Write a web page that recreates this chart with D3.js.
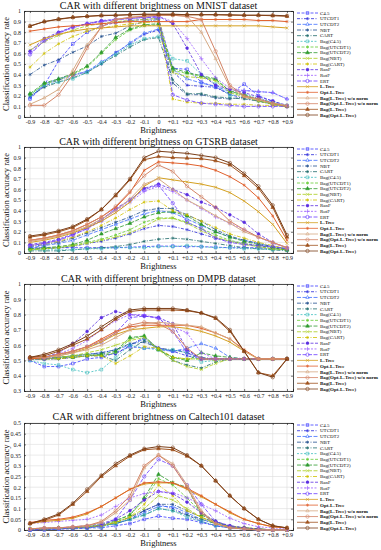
<!DOCTYPE html>
<html>
<head>
<meta charset="utf-8">
<script src="https://cdn.jsdelivr.net/npm/d3@7"></script>
<style>
  body { margin: 0; background: #fff; }
  svg { display: block; font-family: "Liberation Serif", "DejaVu Serif", serif; }
</style>
</head>
<body>
<div id="chart"></div>
<script>
// Kategori sumbu x (brightness)
const brightness = ["-0.9","-0.8","-0.7","-0.6","-0.5","-0.4","-0.3","-0.2","-0.1","0",
  "+0.1","+0.2","+0.3","+0.4","+0.5","+0.6","+0.7","+0.8","+0.9"];

// Nama metode (urutan legend)
const methods = ["C4.5","UTCDT1","UTCDT2","NBT","CART","Bag(C4.5)","Bag(UTCDT1)","Bag(UTCDT2)",
  "Bag(NBT)","Bag(CART)","RanF","RotF","ERT","L-Tree","Opt-L-Tree","Bag(L-Tree) w/o norm",
  "Bag(Opt-L-Tree) w/o norm","Bag(L-Tree)","Bag(Opt-L-Tree)"];

// Tick sumbu y
const ticksUnit = [0,0.1,0.2,0.3,0.4,0.5,0.6,0.7,0.8,0.9,1];
const ticksDmpb = [0.3,0.4,0.5,0.6,0.7,0.8,0.9,1];
const ticksCaltech = [0,0.05,0.1,0.15,0.2,0.25,0.3,0.35,0.4,0.45,0.5];

// Data MNIST (satu baris per metode)
const mnist = [
  [0.17,0.30,0.53,0.69,0.80,0.86,0.89,0.91,0.92,0.93,0.46,0.45,0.33,0.28,0.22,0.31,0.20,0.15,0.10],
  [0.19,0.29,0.35,0.39,0.43,0.50,0.61,0.69,0.78,0.82,0.43,0.30,0.29,0.28,0.21,0.18,0.15,0.12,0.10],
  [0.18,0.31,0.36,0.40,0.43,0.52,0.60,0.70,0.79,0.83,0.45,0.36,0.32,0.29,0.24,0.25,0.24,0.23,0.17],
  [0.40,0.49,0.54,0.61,0.67,0.76,0.79,0.86,0.90,0.92,0.32,0.21,0.21,0.18,0.17,0.19,0.18,0.13,0.10],
  [0.20,0.28,0.33,0.37,0.42,0.50,0.58,0.66,0.73,0.75,0.35,0.22,0.22,0.19,0.18,0.17,0.15,0.12,0.10],
  [0.21,0.30,0.33,0.36,0.42,0.51,0.59,0.68,0.74,0.76,0.55,0.53,0.40,0.31,0.20,0.22,0.17,0.14,0.11],
  [0.21,0.31,0.35,0.40,0.47,0.60,0.73,0.82,0.86,0.87,0.44,0.41,0.38,0.35,0.25,0.20,0.15,0.13,0.10],
  [0.22,0.32,0.36,0.41,0.48,0.61,0.75,0.83,0.87,0.88,0.46,0.42,0.39,0.36,0.24,0.21,0.16,0.13,0.10],
  [0.63,0.71,0.77,0.82,0.86,0.88,0.90,0.91,0.92,0.93,0.42,0.38,0.37,0.34,0.23,0.19,0.15,0.12,0.10],
  [0.47,0.60,0.69,0.76,0.81,0.84,0.86,0.88,0.89,0.90,0.17,0.14,0.13,0.13,0.12,0.12,0.11,0.11,0.10],
  [0.62,0.74,0.80,0.85,0.88,0.91,0.92,0.93,0.94,0.95,0.88,0.65,0.40,0.30,0.26,0.23,0.19,0.15,0.11],
  [0.60,0.72,0.79,0.84,0.88,0.90,0.92,0.93,0.94,0.95,0.90,0.74,0.55,0.37,0.27,0.25,0.24,0.23,0.17],
  [0.59,0.72,0.79,0.85,0.88,0.90,0.92,0.93,0.94,0.94,0.21,0.16,0.13,0.12,0.11,0.10,0.10,0.10,0.10],
  [0.68,0.74,0.78,0.81,0.83,0.84,0.85,0.86,0.86,0.86,0.86,0.86,0.86,0.86,0.86,0.86,0.86,0.85,0.84],
  [0.81,0.83,0.85,0.86,0.87,0.88,0.89,0.90,0.90,0.90,0.90,0.90,0.92,0.92,0.92,0.92,0.91,0.91,0.90],
  [0.12,0.18,0.26,0.44,0.68,0.85,0.92,0.94,0.95,0.96,0.96,0.95,0.80,0.55,0.28,0.19,0.16,0.13,0.11],
  [0.11,0.11,0.21,0.40,0.65,0.85,0.92,0.94,0.95,0.96,0.96,0.95,0.92,0.62,0.30,0.20,0.17,0.13,0.10],
  [0.855,0.90,0.92,0.94,0.95,0.955,0.96,0.965,0.965,0.965,0.965,0.965,0.965,0.965,0.96,0.96,0.96,0.955,0.95],
  [0.86,0.90,0.925,0.94,0.95,0.96,0.96,0.965,0.97,0.97,0.97,0.965,0.965,0.965,0.965,0.96,0.96,0.96,0.955]
];

// Data GTSRB
const gtsrb = [
  [0.05,0.05,0.05,0.05,0.05,0.05,0.05,0.055,0.06,0.065,0.065,0.06,0.06,0.055,0.05,0.05,0.05,0.04,0.03],
  [0.04,0.04,0.05,0.06,0.09,0.11,0.14,0.18,0.23,0.26,0.25,0.22,0.18,0.14,0.11,0.09,0.07,0.05,0.03],
  [0.05,0.07,0.09,0.12,0.17,0.22,0.27,0.32,0.37,0.40,0.38,0.32,0.26,0.20,0.15,0.12,0.09,0.06,0.04],
  [0.06,0.08,0.10,0.14,0.19,0.24,0.29,0.34,0.40,0.42,0.42,0.36,0.30,0.22,0.16,0.12,0.09,0.06,0.04],
  [0.02,0.02,0.02,0.03,0.04,0.05,0.06,0.08,0.11,0.13,0.14,0.13,0.11,0.09,0.07,0.05,0.04,0.03,0.02],
  [0.03,0.03,0.03,0.03,0.04,0.04,0.05,0.05,0.05,0.06,0.06,0.07,0.06,0.05,0.05,0.04,0.04,0.03,0.03],
  [0.03,0.04,0.05,0.07,0.10,0.13,0.17,0.22,0.29,0.33,0.33,0.29,0.23,0.17,0.12,0.09,0.06,0.04,0.03],
  [0.04,0.05,0.06,0.08,0.12,0.18,0.23,0.28,0.34,0.38,0.39,0.35,0.27,0.20,0.15,0.11,0.08,0.05,0.03],
  [0.03,0.04,0.05,0.07,0.09,0.12,0.15,0.19,0.25,0.32,0.33,0.28,0.21,0.15,0.11,0.08,0.06,0.04,0.03],
  [0.07,0.09,0.11,0.15,0.20,0.26,0.33,0.41,0.48,0.49,0.40,0.36,0.30,0.24,0.18,0.14,0.10,0.07,0.04],
  [0.08,0.10,0.13,0.18,0.24,0.32,0.41,0.50,0.61,0.65,0.60,0.55,0.48,0.43,0.36,0.29,0.18,0.10,0.05],
  [0.07,0.09,0.12,0.17,0.23,0.30,0.40,0.48,0.58,0.63,0.58,0.50,0.42,0.34,0.28,0.22,0.15,0.09,0.05],
  [0.07,0.09,0.12,0.17,0.23,0.31,0.42,0.50,0.60,0.64,0.47,0.29,0.23,0.14,0.10,0.08,0.07,0.06,0.04],
  [0.10,0.12,0.15,0.19,0.24,0.30,0.38,0.48,0.63,0.71,0.69,0.67,0.65,0.62,0.57,0.49,0.39,0.27,0.09],
  [0.12,0.14,0.17,0.21,0.27,0.34,0.43,0.57,0.78,0.86,0.85,0.84,0.82,0.78,0.72,0.64,0.52,0.35,0.12],
  [0.11,0.13,0.16,0.20,0.25,0.32,0.40,0.51,0.65,0.70,0.60,0.50,0.43,0.35,0.28,0.20,0.15,0.10,0.05],
  [0.12,0.14,0.17,0.21,0.27,0.34,0.44,0.58,0.73,0.83,0.77,0.63,0.53,0.43,0.30,0.22,0.15,0.10,0.05],
  [0.15,0.17,0.20,0.24,0.31,0.41,0.54,0.69,0.88,0.91,0.90,0.895,0.89,0.87,0.83,0.73,0.61,0.43,0.15],
  [0.16,0.18,0.21,0.25,0.32,0.41,0.55,0.70,0.90,0.96,0.95,0.94,0.92,0.90,0.85,0.75,0.63,0.45,0.17]
];

// Data DMPB
const dmpb = [
  [0.50,0.46,0.46,0.48,0.51,0.52,0.55,0.59,0.58,0.58,0.56,0.57,0.51,0.51,0.51,0.51,0.51,0.51,0.51],
  [0.51,0.51,0.51,0.52,0.53,0.54,0.54,0.60,0.65,0.58,0.56,0.53,0.51,0.51,0.51,0.51,0.51,0.51,0.51],
  [0.51,0.51,0.52,0.53,0.54,0.55,0.57,0.60,0.64,0.57,0.56,0.58,0.61,0.58,0.52,0.51,0.51,0.51,0.51],
  [0.51,0.51,0.52,0.53,0.54,0.55,0.57,0.61,0.62,0.58,0.57,0.55,0.52,0.51,0.51,0.51,0.51,0.51,0.51],
  [0.51,0.51,0.51,0.52,0.53,0.53,0.50,0.57,0.63,0.58,0.50,0.47,0.45,0.49,0.51,0.51,0.51,0.51,0.51],
  [0.50,0.48,0.47,0.44,0.42,0.44,0.52,0.60,0.58,0.57,0.57,0.55,0.49,0.50,0.51,0.51,0.51,0.51,0.51],
  [0.51,0.51,0.52,0.53,0.54,0.53,0.55,0.64,0.66,0.57,0.52,0.51,0.51,0.51,0.51,0.51,0.51,0.51,0.51],
  [0.51,0.51,0.52,0.52,0.53,0.54,0.56,0.65,0.66,0.57,0.52,0.50,0.55,0.53,0.52,0.51,0.51,0.51,0.51],
  [0.51,0.51,0.52,0.53,0.55,0.57,0.60,0.63,0.65,0.57,0.50,0.46,0.44,0.48,0.51,0.51,0.51,0.51,0.51],
  [0.51,0.51,0.51,0.52,0.53,0.53,0.48,0.53,0.59,0.58,0.52,0.51,0.51,0.50,0.51,0.51,0.51,0.51,0.51],
  [0.52,0.52,0.55,0.61,0.69,0.78,0.82,0.80,0.79,0.78,0.74,0.57,0.51,0.51,0.51,0.51,0.51,0.51,0.51],
  [0.51,0.52,0.54,0.58,0.63,0.70,0.76,0.80,0.80,0.77,0.72,0.68,0.55,0.51,0.51,0.51,0.51,0.51,0.51],
  [0.51,0.51,0.53,0.56,0.59,0.62,0.68,0.78,0.79,0.78,0.69,0.55,0.51,0.51,0.51,0.51,0.51,0.51,0.51],
  [0.51,0.52,0.53,0.55,0.58,0.62,0.67,0.70,0.71,0.72,0.72,0.71,0.69,0.66,0.62,0.56,0.51,0.51,0.51],
  [0.51,0.52,0.54,0.56,0.59,0.64,0.69,0.72,0.73,0.73,0.73,0.73,0.71,0.68,0.64,0.57,0.51,0.51,0.51],
  [0.52,0.52,0.53,0.55,0.57,0.60,0.65,0.70,0.74,0.75,0.74,0.73,0.72,0.68,0.64,0.56,0.51,0.51,0.51],
  [0.52,0.52,0.54,0.56,0.59,0.63,0.68,0.73,0.75,0.74,0.69,0.58,0.51,0.51,0.51,0.51,0.51,0.51,0.51],
  [0.52,0.53,0.56,0.60,0.64,0.70,0.77,0.82,0.83,0.83,0.83,0.825,0.81,0.775,0.69,0.56,0.42,0.40,0.51],
  [0.52,0.54,0.57,0.61,0.66,0.72,0.78,0.83,0.84,0.84,0.84,0.83,0.81,0.78,0.70,0.56,0.42,0.39,0.51]
];

// Data Caltech101
const caltech = [
  [0.0,0.0,0.005,0.005,0.01,0.01,0.02,0.03,0.05,0.065,0.055,0.05,0.035,0.02,0.01,0.005,0.0,0.0,0.0],
  [0.0,0.005,0.005,0.01,0.015,0.02,0.03,0.05,0.09,0.12,0.10,0.07,0.04,0.02,0.01,0.005,0.0,0.0,0.0],
  [0.0,0.005,0.005,0.01,0.01,0.02,0.03,0.05,0.08,0.11,0.11,0.08,0.05,0.03,0.015,0.005,0.0,0.0,0.0],
  [0.005,0.005,0.01,0.01,0.015,0.02,0.035,0.06,0.09,0.12,0.12,0.09,0.06,0.035,0.02,0.01,0.005,0.0,0.0],
  [0.0,0.005,0.005,0.01,0.01,0.02,0.03,0.05,0.07,0.10,0.09,0.07,0.05,0.03,0.015,0.005,0.0,0.0,0.0],
  [0.0,0.005,0.005,0.01,0.01,0.015,0.03,0.05,0.07,0.10,0.09,0.06,0.04,0.02,0.01,0.005,0.0,0.0,0.0],
  [0.005,0.005,0.01,0.01,0.015,0.02,0.04,0.07,0.14,0.24,0.21,0.15,0.08,0.04,0.015,0.01,0.005,0.0,0.0],
  [0.005,0.005,0.01,0.01,0.015,0.025,0.045,0.07,0.15,0.26,0.22,0.20,0.07,0.04,0.015,0.01,0.005,0.0,0.0],
  [0.005,0.005,0.01,0.01,0.015,0.02,0.035,0.06,0.10,0.16,0.14,0.10,0.06,0.03,0.015,0.01,0.005,0.0,0.0],
  [0.005,0.005,0.01,0.01,0.015,0.02,0.035,0.06,0.12,0.21,0.16,0.09,0.06,0.03,0.015,0.01,0.005,0.0,0.0],
  [0.005,0.01,0.01,0.015,0.02,0.03,0.05,0.09,0.14,0.18,0.17,0.13,0.08,0.04,0.02,0.01,0.005,0.0,0.0],
  [0.03,0.035,0.04,0.045,0.05,0.07,0.11,0.15,0.17,0.18,0.175,0.15,0.12,0.09,0.055,0.03,0.015,0.01,0.005],
  [0.0,0.005,0.005,0.01,0.01,0.02,0.05,0.14,0.25,0.33,0.30,0.21,0.12,0.04,0.015,0.005,0.0,0.0,0.0],
  [0.03,0.04,0.045,0.055,0.075,0.11,0.15,0.19,0.215,0.22,0.22,0.19,0.155,0.12,0.08,0.05,0.03,0.015,0.01],
  [0.035,0.045,0.05,0.06,0.08,0.11,0.15,0.19,0.22,0.225,0.22,0.195,0.16,0.12,0.085,0.05,0.03,0.015,0.01],
  [0.005,0.01,0.01,0.015,0.02,0.035,0.08,0.14,0.29,0.35,0.31,0.21,0.09,0.03,0.01,0.005,0.0,0.0,0.0],
  [0.005,0.01,0.01,0.015,0.02,0.04,0.09,0.16,0.30,0.35,0.30,0.20,0.08,0.03,0.01,0.005,0.0,0.0,0.0],
  [0.03,0.045,0.07,0.12,0.18,0.25,0.30,0.345,0.375,0.38,0.375,0.345,0.30,0.23,0.16,0.10,0.05,0.02,0.01],
  [0.03,0.05,0.075,0.125,0.19,0.255,0.31,0.35,0.38,0.39,0.385,0.35,0.30,0.23,0.16,0.10,0.05,0.02,0.01]
];

// Gaya tiap metode: warna, pola garis, marker
const colors = ["#3b3bff","#2a2ad8","#3f6fff","#24508f","#1f6b6b","#3fbfbf","#66cc33","#2e9a2e",
  "#a8cc1a","#cfc000","#5a2ee0","#9a5cff","#6a3cff","#d4a020","#e0602c","#d6aa84","#d48466","#a0531e","#7a3e18"];
const dashes = ["3,1.5","3,1.5,1,1.5","4,1.5","4,1.5,1,1.5","4,1.5,1,1.5","2,1.5","3,1.5","4,1.5",
  "4,1.5","4,1.5,1,1.5","3,1.5","2,1.5","4,1.5",null,null,null,null,null,null];
const markers = ["square","asterisk","triangle","asterisk","asterisk","square","asterisk","triangleF",
  "times","asterisk","circleF","plus","circle","times","asterisk","triangle","circle","triangleF","circle"];

const panels = [
  { title: "CAR with different brightness on MNIST dataset", data: mnist, ticks: ticksUnit, domain: [0,1], top: 11, bottom: 117, titleY: 9 },
  { title: "CAR with different brightness on GTSRB dataset", data: gtsrb, ticks: ticksUnit, domain: [0,1], top: 147, bottom: 253, titleY: 145 },
  { title: "CAR with different brightness on DMPB dataset", data: dmpb, ticks: ticksDmpb, domain: [0.3,1], top: 284, bottom: 391, titleY: 282 },
  { title: "CAR with different brightness on Caltech101 dataset", data: caltech, ticks: ticksCaltech, domain: [0,0.5], top: 423, bottom: 530, titleY: 420 }
];

const left = 24, right = 293;

const svg = d3.select("#chart").append("svg")
  .attr("width", 381).attr("height", 550);

// Membuat path marker (ukuran kecil seperti gambar asli)
function markerPath(type) {
  const map = {
    square: d3.symbolSquare2, circle: d3.symbolCircle, circleF: d3.symbolCircle,
    triangle: d3.symbolTriangle2, triangleF: d3.symbolTriangle, asterisk: d3.symbolAsterisk,
    times: d3.symbolTimes, plus: d3.symbolPlus
  };
  const sizes = { square: 9, circle: 9, circleF: 6, triangle: 8, triangleF: 6, asterisk: 7, times: 7, plus: 7 };
  return d3.symbol().type(map[type]).size(sizes[type])();
}
function markerFill(type, color) {
  return (type === "circleF" || type === "triangleF") ? color : "none";
}

function drawPanel(p) {
  const g = svg.append("g");

  const x = d3.scalePoint().domain(brightness).range([left, right]).padding(0.42);
  const y = d3.scaleLinear().domain(p.domain).range([p.bottom, p.top]);

  // Grid
  g.append("g").selectAll("line").data(brightness).enter().append("line")
    .attr("x1", d => x(d)).attr("x2", d => x(d))
    .attr("y1", p.top).attr("y2", p.bottom)
    .attr("stroke", "#dcdcdc").attr("stroke-width", 0.6);
  g.append("g").selectAll("line").data(p.ticks).enter().append("line")
    .attr("x1", left).attr("x2", right)
    .attr("y1", d => y(d)).attr("y2", d => y(d))
    .attr("stroke", "#dcdcdc").attr("stroke-width", 0.6);

  // Sumbu x dan y
  const xAxis = g.append("g")
    .attr("transform", `translate(0,${p.bottom})`)
    .call(d3.axisBottom(x).tickSize(-2).tickPadding(3));
  const yAxis = g.append("g")
    .attr("transform", `translate(${left},0)`)
    .call(d3.axisLeft(y).tickValues(p.ticks).tickFormat(d => String(+d.toFixed(2))).tickSize(-2).tickPadding(3));
  g.append("g").attr("transform", `translate(0,${p.top})`)
    .call(d3.axisTop(x).tickSize(-2).tickFormat(""));
  g.append("g").attr("transform", `translate(${right},0)`)
    .call(d3.axisRight(y).tickValues(p.ticks).tickSize(-2).tickFormat(""));
  g.selectAll(".domain").attr("stroke", "#222").attr("stroke-width", 0.8);
  g.selectAll(".tick line").attr("stroke", "#222").attr("stroke-width", 0.6);
  xAxis.selectAll("text").style("font-size", "6px").style("font-family", "Liberation Serif").attr("fill", "#222");
  yAxis.selectAll("text").style("font-size", "6px").style("font-family", "Liberation Serif").attr("fill", "#222");

  // Garis dan marker tiap metode
  const line = d3.line().x((d, i) => x(brightness[i])).y(d => y(d));
  const clipId = "clip" + p.top;
  g.append("clipPath").attr("id", clipId).append("rect")
    .attr("x", left - 4).attr("y", p.top - 4).attr("width", right - left + 8).attr("height", p.bottom - p.top + 8);
  const series = g.append("g").attr("clip-path", `url(#${clipId})`);

  p.data.forEach((vals, k) => {
    series.append("path")
      .datum(vals)
      .attr("d", line)
      .attr("fill", "none")
      .attr("stroke", colors[k])
      .attr("stroke-width", k >= 13 ? 1 : 0.8)
      .attr("stroke-dasharray", dashes[k]);
    series.selectAll(null).data(vals).enter().append("path")
      .attr("transform", (d, i) => `translate(${x(brightness[i])},${y(d)})`)
      .attr("d", markerPath(markers[k]))
      .attr("fill", markerFill(markers[k], colors[k]))
      .attr("stroke", colors[k])
      .attr("stroke-width", 0.6);
  });

  // Judul dan label sumbu
  g.append("text")
    .attr("x", (left + right) / 2).attr("y", p.titleY)
    .attr("text-anchor", "middle")
    .style("font-size", "10px")
    .attr("fill", "#111")
    .text(p.title);
  g.append("text")
    .attr("x", (left + right) / 2).attr("y", p.bottom + 16)
    .attr("text-anchor", "middle")
    .style("font-size", "8.5px")
    .attr("fill", "#111")
    .text("Brightness");
  g.append("text")
    .attr("transform", "rotate(-90)")
    .attr("x", -(p.top + p.bottom) / 2).attr("y", 9)
    .attr("text-anchor", "middle")
    .style("font-size", "8.5px")
    .attr("fill", "#111")
    .text("Classification accuracy rate");

  // Legend
  const step = (p.bottom - p.top - 4) / (methods.length - 1);
  const leg = g.append("g");
  methods.forEach((m, k) => {
    const ly = p.top + 2 + k * step;
    leg.append("line")
      .attr("x1", 297).attr("x2", 318).attr("y1", ly).attr("y2", ly)
      .attr("stroke", colors[k]).attr("stroke-width", 0.8)
      .attr("stroke-dasharray", dashes[k]);
    leg.append("path")
      .attr("transform", `translate(307.5,${ly})`)
      .attr("d", markerPath(markers[k]))
      .attr("fill", markerFill(markers[k], colors[k]))
      .attr("stroke", colors[k]).attr("stroke-width", 0.6);
    leg.append("text")
      .attr("x", 320).attr("y", ly + 1.7)
      .style("font-size", "5px")
      .style("font-weight", k >= 13 ? "bold" : "normal")
      .attr("fill", "#111")
      .text(m);
  });
}

panels.forEach(drawPanel);
</script>
</body>
</html>
